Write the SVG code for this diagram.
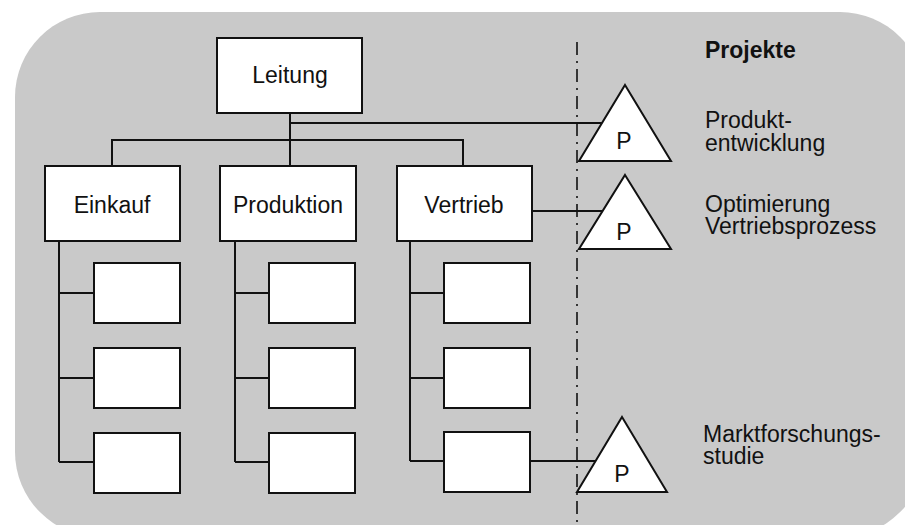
<svg xmlns="http://www.w3.org/2000/svg" width="905" height="525" viewBox="0 0 905 525">
<style>
.box{fill:#fff;stroke:#111;stroke-width:2}
.ln{fill:none;stroke:#111;stroke-width:2}
.t{font-family:"Liberation Sans",Arial,sans-serif;font-size:23px;fill:#111}
.c{text-anchor:middle}
.b{font-weight:bold}
</style>
<rect x="15" y="12" width="910" height="525" rx="85" ry="85" fill="#c9c9c9"/>
<g id="connectors">
<path class="ln" d="M290 113V166M290 123H602M112 166V140H463V166"/>
<path class="ln" d="M59 241V462M59 293H94M59 378H94M59 462H94"/>
<path class="ln" d="M235 241V462M235 293H269M235 378H269M235 462H269"/>
<path class="ln" d="M410 241V461M410 293H444M410 378H444M410 461H444"/>
<path class="ln" d="M532 211H603M530 461H596"/>
<path fill="none" stroke="#111" stroke-width="1.6" stroke-dasharray="13 6 2 6" d="M577 42V525"/>
</g>
<g id="leitung"><rect class="box" x="217" y="38" width="145" height="75"/><text class="t c" x="290" y="83">Leitung</text></g>
<g id="einkauf"><rect class="box" x="45" y="166" width="135" height="75"/><text class="t c" x="112" y="213">Einkauf</text></g>
<g id="produktion"><rect class="box" x="220" y="166" width="136" height="75"/><text class="t c" x="288" y="213">Produktion</text></g>
<g id="vertrieb"><rect class="box" x="397" y="166" width="135" height="75"/><text class="t c" x="464" y="213">Vertrieb</text></g>
<g id="e1"><rect class="box" x="94" y="263" width="86" height="60"/></g>
<g id="e2"><rect class="box" x="94" y="348" width="86" height="60"/></g>
<g id="e3"><rect class="box" x="94" y="433" width="86" height="60"/></g>
<g id="p1"><rect class="box" x="269" y="263" width="86" height="60"/></g>
<g id="p2"><rect class="box" x="269" y="348" width="86" height="60"/></g>
<g id="p3"><rect class="box" x="269" y="433" width="86" height="60"/></g>
<g id="v1"><rect class="box" x="444" y="263" width="86" height="60"/></g>
<g id="v2"><rect class="box" x="444" y="348" width="86" height="60"/></g>
<g id="v3"><rect class="box" x="444" y="432" width="86" height="60"/></g>
<g id="proj1"><polygon class="box" points="625,85 671,161 579,161"/><text class="t c" x="624" y="149">P</text></g>
<g id="proj2"><polygon class="box" points="625,175 671,249 579,249"/><text class="t c" x="624" y="240">P</text></g>
<g id="proj3"><polygon class="box" points="622,417 667,492 577,492"/><text class="t c" x="622" y="482">P</text></g>
<g id="labels">
<text class="t b" x="705" y="58">Projekte</text>
<text class="t" x="705" y="128">Produkt-<tspan x="705" dy="23">entwicklung</tspan></text>
<text class="t" x="705" y="212">Optimierung<tspan x="705" dy="22">Vertriebsprozess</tspan></text>
<text class="t" x="703" y="442">Marktforschungs-<tspan x="703" dy="22">studie</tspan></text>
</g>
</svg>
